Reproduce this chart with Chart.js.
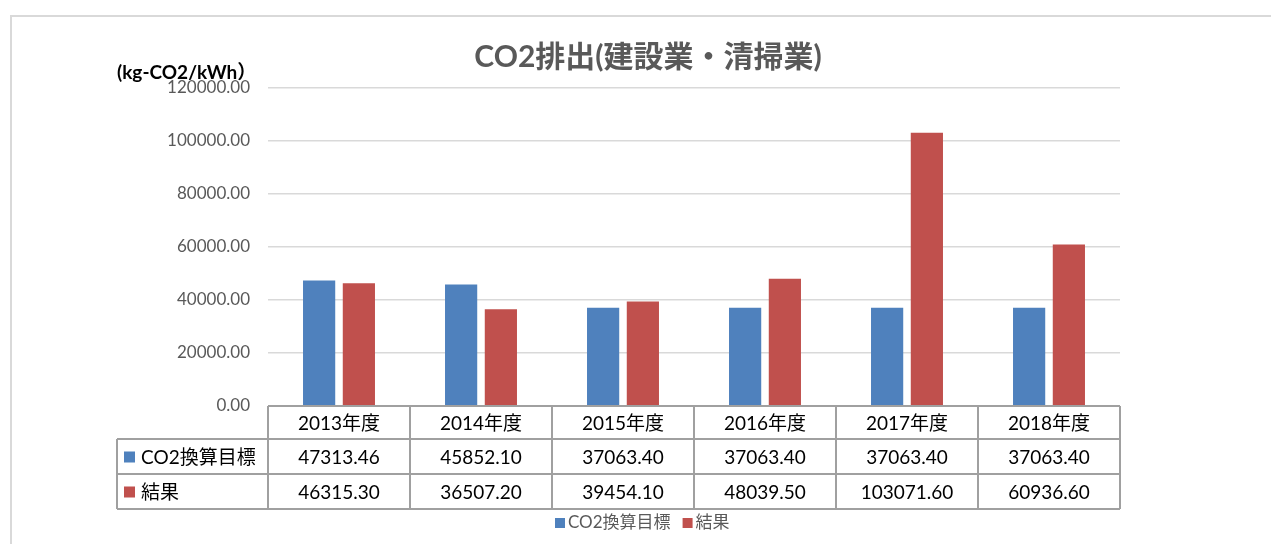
<!DOCTYPE html>
<html>

<head>
    <meta charset="UTF-8">
    <title>CO2排出(建設業・清掃業)</title>
    <script src="https://cdn.jsdelivr.net/npm/chart.js@4.4.0/dist/chart.umd.min.js"></script>
    <style>
        body { margin: 0; background: #fff; }
        #frame { position: absolute; left: 10px; top: 15px; width: 1300px; height: 600px; border: 2px solid #d9d9d9; }
        #chart { position: absolute; left: 0; top: 0; }
    </style>
</head>

<body>
    <div id="frame"></div>
    <canvas id="chart" width="1271" height="544"></canvas>
    <script>
        const years = ['2013年度', '2014年度', '2015年度', '2016年度', '2017年度', '2018年度'];
        const targetValues = [47313.46, 45852.10, 37063.40, 37063.40, 37063.40, 37063.40]; // CO2換算目標
        const resultValues = [46315.30, 36507.20, 39454.10, 48039.50, 103071.60, 60936.60]; // 結果
        const seriesNames = ['CO2換算目標', '結果'];
        const chartTitle = 'CO2排出(建設業・清掃業)';
        const unitLabel = '(kg-CO2/kWh）';

        const FONT = "Lato, 'Noto Sans CJK JP', sans-serif";
        const BLUE = '#4f81bd';
        const RED = '#c0504d';

        // draws title, unit, the data table under the axis and the legend
        const tablePlugin = {
            id: 'tablePlugin',
            afterDraw(chart) {
                const ctx = chart.ctx;
                const area = chart.chartArea;
                const x = chart.scales.x;
                const rows = [area.bottom, area.bottom + 33, area.bottom + 68, area.bottom + 103];
                const leftEdge = 117;
                const n = years.length;
                const colW = (area.right - area.left) / n;

                ctx.save();
                // title
                ctx.fillStyle = '#595959';
                ctx.font = "bold 30px " + FONT;
                ctx.textAlign = 'center';
                ctx.textBaseline = 'middle';
                ctx.fillText(chartTitle, 648, 57);

                // unit
                ctx.fillStyle = '#000';
                ctx.font = "bold 19px " + FONT;
                ctx.textAlign = 'left';
                ctx.fillText(unitLabel, 117, 73);

                // table grid
                ctx.strokeStyle = '#a0a0a0';
                ctx.lineWidth = 2;
                ctx.beginPath();
                ctx.moveTo(area.left, rows[0]); ctx.lineTo(area.right, rows[0]);
                for (let r = 1; r < 4; r++) {
                    ctx.moveTo(leftEdge, rows[r]); ctx.lineTo(area.right, rows[r]);
                }
                ctx.moveTo(leftEdge, rows[1]); ctx.lineTo(leftEdge, rows[3]);
                for (let i = 0; i <= n; i++) {
                    const cx = area.left + i * colW;
                    ctx.moveTo(cx, rows[0]); ctx.lineTo(cx, rows[3]);
                }
                ctx.stroke();

                // table text
                ctx.fillStyle = '#000';
                ctx.font = "19px " + FONT;
                ctx.textAlign = 'center';
                const dataRows = [targetValues, resultValues];
                years.forEach((y, i) => {
                    const cx = x.getPixelForValue(i);
                    ctx.fillText(y, cx, (rows[0] + rows[1]) / 2 + 1);
                    dataRows.forEach((vals, r) => {
                        ctx.fillText(vals[i].toFixed(2), cx, (rows[r + 1] + rows[r + 2]) / 2 + 1);
                    });
                });

                // row headers
                ctx.textAlign = 'left';
                [BLUE, RED].forEach((c, r) => {
                    const cy = (rows[r + 1] + rows[r + 2]) / 2;
                    ctx.fillStyle = c;
                    ctx.fillRect(124, cy - 5, 11, 11);
                    ctx.fillStyle = '#000';
                    ctx.fillText(seriesNames[r], 141, cy + 1);
                });

                // bottom legend
                ctx.font = "17px " + FONT;
                const ly = 523;
                let lx = 555;
                [BLUE, RED].forEach((c, r) => {
                    ctx.fillStyle = c;
                    ctx.fillRect(lx, ly - 5, 10, 10);
                    ctx.fillStyle = '#595959';
                    ctx.fillText(seriesNames[r], lx + 13, ly);
                    lx += 13 + ctx.measureText(seriesNames[r]).width + 12;
                });
                ctx.restore();
            }
        };

        const ctx = document.getElementById('chart').getContext('2d');
        const chart = new Chart(ctx, {
            type: 'bar',
            data: {
                labels: years,
                datasets: [{
                    label: seriesNames[0],
                    data: targetValues,
                    backgroundColor: BLUE
                }, {
                    label: seriesNames[1],
                    data: resultValues,
                    backgroundColor: RED
                }]
            },
            options: {
                responsive: false,
                animation: false,
                layout: { padding: { top: 88, left: 10, right: 151, bottom: 35 } },
                datasets: {
                    bar: { categoryPercentage: 0.56, barPercentage: 0.81 }
                },
                plugins: {
                    legend: { display: false },
                    title: { display: false },
                    tooltip: { enabled: false }
                },
                scales: {
                    x: {
                        grid: { display: false },
                        border: { display: false },
                        ticks: { display: false },
                        afterFit(s) { s.height = 103; }
                    },
                    y: {
                        min: 0,
                        max: 120000,
                        ticks: {
                            stepSize: 20000,
                            color: '#595959',
                            font: { family: FONT, size: 17 },
                            padding: 18,
                            callback: v => v.toFixed(2)
                        },
                        grid: { color: '#d9d9d9', lineWidth: 1.5, drawTicks: false },
                        border: { display: false },
                        afterFit(s) { s.width = 258; }
                    }
                }
            },
            plugins: [tablePlugin]
        });
    </script>
</body>

</html>
